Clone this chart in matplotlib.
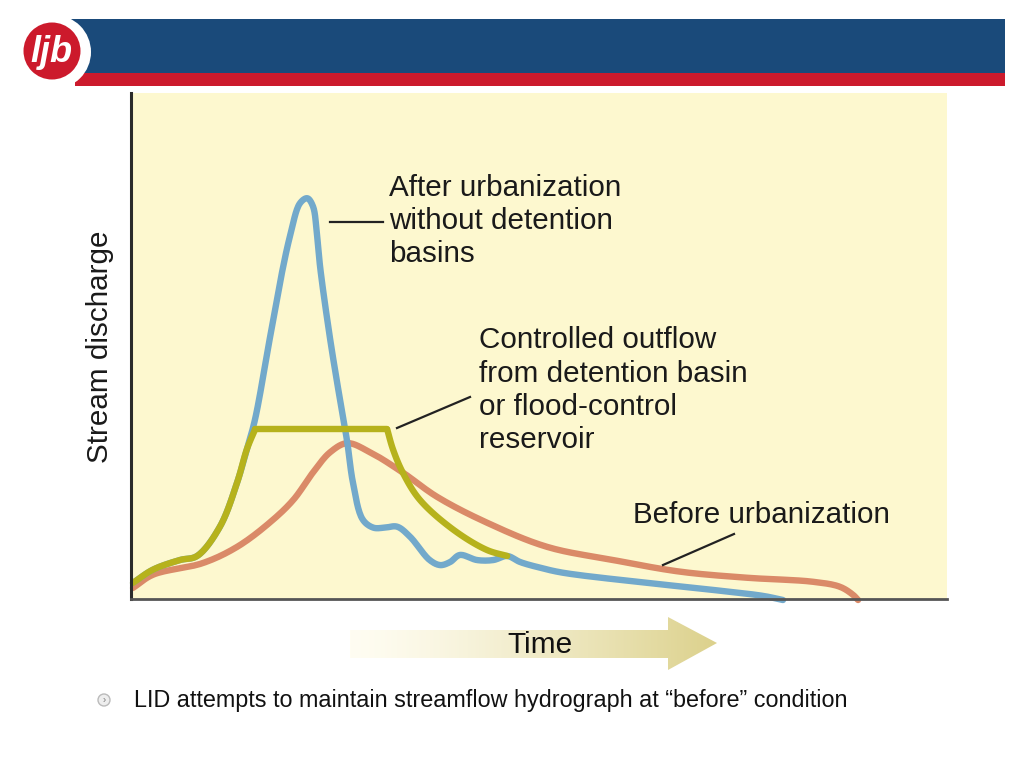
import numpy as np
import matplotlib
matplotlib.use("Agg")
import matplotlib.pyplot as plt
from matplotlib.patches import Rectangle, Circle, Polygon

plt.rcParams['font.family'] = ['Liberation Sans', 'DejaVu Sans']

# hydrograph values (time, discharge in arbitrary units 0-100)
t_after = [0.25, 2.7, 6.0, 8.1, 10.9, 13.0, 14.2, 15.2, 17.0, 18.6, 19.5, 20.7, 21.6,
           22.3, 22.8, 23.2, 24.4, 25.6, 26.5, 27.2, 28.4, 29.7, 31.1, 32.6, 34.2,
           36.6, 37.9, 39.1, 40.3, 42.4, 44.4, 46.1, 47.7, 50.1, 52.9, 63.2, 71.3,
           77.5, 79.9]
q_after = [3.2, 5.8, 7.7, 8.5, 14.3, 23.0, 29.6, 35.5, 51.4, 65.3, 71.8, 78.2, 79.2,
           77.6, 71.8, 65.3, 51.4, 39.5, 31.0, 23.0, 15.7, 14.1, 14.1, 14.3, 12.3,
           7.7, 6.7, 7.3, 8.7, 7.7, 7.7, 8.5, 7.3, 6.2, 5.2, 3.2, 1.8, 0.6, -0.2]

t_ctrl = [0.25, 2.7, 6.0, 8.1, 10.9, 13.0, 14.2, 15.2, 31.4, 32.1, 33.3, 35.4, 39.5,
          43.6, 46.1]
q_ctrl = [3.2, 5.8, 7.7, 8.5, 14.3, 23.0, 29.6, 33.5, 33.5, 29.6, 25.0, 19.6, 13.7,
          9.7, 8.5]

t_before = [0.25, 2.7, 8.8, 13.0, 17.0, 19.9, 22.3, 24.4, 26.5, 29.3, 33.3, 37.5,
            43.6, 51.0, 59.1, 67.3, 75.5, 83.6, 86.9, 88.5, 89.1]
q_before = [2.2, 4.8, 7.1, 10.3, 15.1, 19.6, 25.0, 29.0, 30.8, 29.0, 25.0, 20.2,
            15.1, 10.3, 7.7, 5.4, 4.2, 3.4, 2.4, 0.8, -0.2]


def smooth(x, y, n=16, sx=8.16, sy=5.06):
    # centripetal catmull-rom through the read points, for drawing only
    P = np.column_stack([np.asarray(x) * sx, np.asarray(y) * sy])
    if len(P) < 3:
        return np.asarray(x), np.asarray(y)
    P = np.vstack([2 * P[0] - P[1], P, 2 * P[-1] - P[-2]])
    out = []
    for i in range(1, len(P) - 2):
        p0, p1, p2, p3 = P[i - 1], P[i], P[i + 1], P[i + 2]
        t0 = 0.0
        t1 = t0 + np.linalg.norm(p1 - p0) ** 0.5 + 1e-9
        t2 = t1 + np.linalg.norm(p2 - p1) ** 0.5 + 1e-9
        t3 = t2 + np.linalg.norm(p3 - p2) ** 0.5 + 1e-9
        t = np.linspace(t1, t2, n, endpoint=False)[:, None]
        a1 = (t1 - t) / (t1 - t0) * p0 + (t - t0) / (t1 - t0) * p1
        a2 = (t2 - t) / (t2 - t1) * p1 + (t - t1) / (t2 - t1) * p2
        a3 = (t3 - t) / (t3 - t2) * p2 + (t - t2) / (t3 - t2) * p3
        b1 = (t2 - t) / (t2 - t0) * a1 + (t - t0) / (t2 - t0) * a2
        b2 = (t3 - t) / (t3 - t1) * a2 + (t - t1) / (t3 - t1) * a3
        out.append((t2 - t) / (t2 - t1) * b1 + (t - t1) / (t2 - t1) * b2)
    out.append(P[-2][None, :])
    out = np.vstack(out)
    return out[:, 0] / sx, out[:, 1] / sy


fig = plt.figure(figsize=(10.24, 7.68), dpi=100)
W, H = 1024, 768

# chart axes
ax = fig.add_axes([131 / W, (H - 599) / H, 816 / W, (599 - 93) / H])
ax.set_facecolor('#FDF8CF')
ax.set_xlim(0, 100)
ax.set_ylim(0, 100)
ax.set_xticks([])
ax.set_yticks([])
for s in ['top', 'right']:
    ax.spines[s].set_visible(False)
ax.spines['left'].set_color('#2b2b2b')
ax.spines['left'].set_linewidth(2.2)
ax.spines['bottom'].set_color('#555555')
ax.spines['bottom'].set_linewidth(2.0)

lw = 4.6
kw = dict(lw=lw, solid_capstyle='round', solid_joinstyle='round', clip_on=False)
ax.plot(*smooth(t_before, q_before), color='#DA8A68', **kw)
ax.plot(*smooth(t_after, q_after), color='#72A9CB', **kw)
# controlled outflow: rise, flat top, recession (sharp corners at the plateau)
green = '#B6B21C'
ax.plot(*smooth(t_ctrl[:8], q_ctrl[:8]), color=green, **kw)
ax.plot(t_ctrl[7:9], q_ctrl[7:9], color=green, **kw)
ax.plot(*smooth(t_ctrl[8:], q_ctrl[8:]), color=green, **kw)

# overlay in pixel coords for slide decoration and labels
ov = fig.add_axes([0, 0, 1, 1], facecolor='none')
ov.set_xlim(0, W)
ov.set_ylim(H, 0)
ov.axis('off')

# header
ov.add_patch(Rectangle((70, 19), 935, 54, color='#1A4A7A', lw=0))
ov.add_patch(Rectangle((75, 73), 930, 13, color='#CC1A2C', lw=0))
ov.add_patch(Circle((54, 52), 37, color='white', lw=0))
ov.add_patch(Circle((52, 51), 28.5, color='#CC1A2C', lw=0))
ov.text(51, 53, 'ljb', color='white', fontsize=26, fontweight='bold', style='italic',
        ha='center', va='center')

fs = 21.3
txt = dict(fontsize=fs, color='#1a1a1a', va='center', ha='left')
ov.text(389, 188, 'After urbanization', **txt)
ov.text(389, 221, 'without detention', **txt)
ov.text(389, 254, 'basins', **txt)
ov.plot([330, 383], [222, 222], color='#222222', lw=1.6)

ov.text(479, 340, 'Controlled outflow', **txt)
ov.text(479, 374, 'from detention basin', **txt)
ov.text(479, 407, 'or flood-control', **txt)
ov.text(479, 440, 'reservoir', **txt)
ov.plot([397, 470], [428, 397], color='#222222', lw=1.6)

ov.text(633, 515, 'Before urbanization', **txt)
ov.plot([663, 734], [565, 534], color='#222222', lw=1.6)

ov.text(100, 347, 'Stream discharge', fontsize=fs, color='#1a1a1a', rotation=90,
        ha='center', va='center')

# time arrow with gradient
arrow = Polygon([[350, 630], [668, 630], [668, 617], [717, 643], [668, 670],
                 [668, 658], [350, 658]], closed=True, facecolor='none', edgecolor='none')
ov.add_patch(arrow)
grad = np.linspace(0, 1, 256)[None, :] ** 1.3
c0 = np.array([255, 253, 242]) / 255
c1 = np.array([220, 209, 140]) / 255
img = c0[None, None, :] + (c1 - c0)[None, None, :] * grad[:, :, None]
im = ov.imshow(img, extent=[350, 717, 670, 617], aspect='auto', zorder=1)
im.set_clip_path(arrow)
ov.set_xlim(0, W)
ov.set_ylim(H, 0)
ov.text(540, 645, 'Time', fontsize=21.5, color='#111111', ha='center', va='center',
        zorder=3)

# bullet
ov.add_patch(Circle((104, 700), 6, facecolor='#EEEEEE', edgecolor='#BBBBBB', lw=1))
ov.text(104.5, 700, '›', fontsize=7, color='#777777', ha='center', va='center')
ov.text(134, 700, 'LID attempts to maintain streamflow hydrograph at \u201cbefore\u201d condition',
        fontsize=16.8, color='#111111', ha='left', va='center')

fig.savefig('out.png', dpi=100)
